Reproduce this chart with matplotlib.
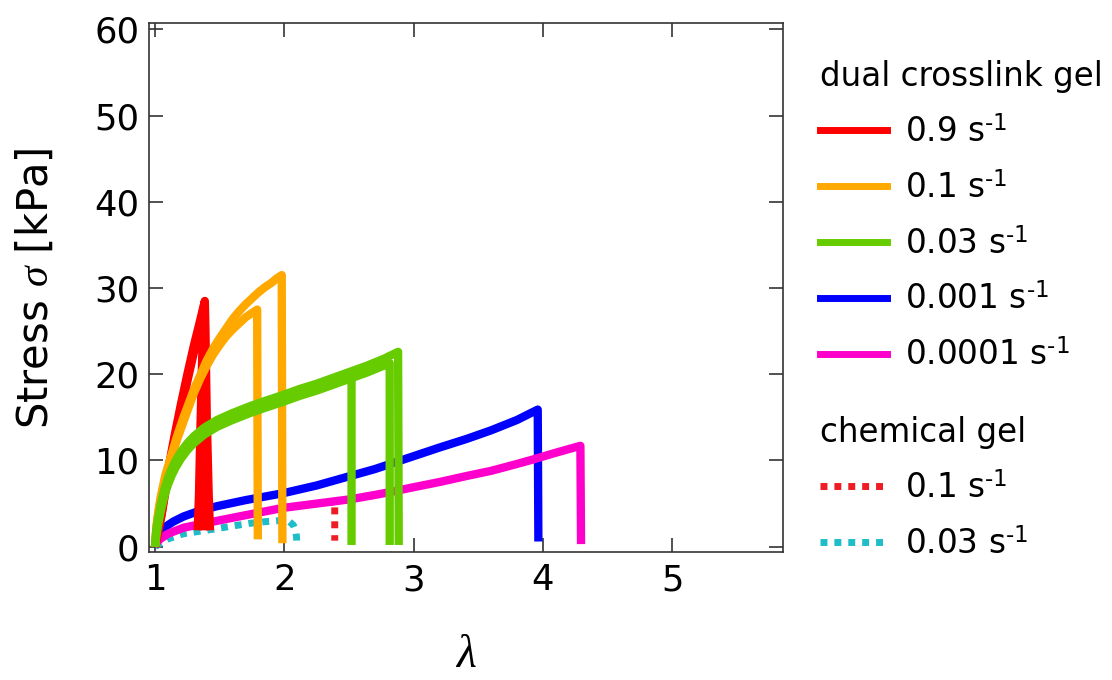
import matplotlib
matplotlib.use('Agg')
import matplotlib.pyplot as plt
from matplotlib.lines import Line2D

# ---------------- data ----------------
# dual crosslink gel, 0.9 s^-1 (three specimens)
red_lam_a = [1.00, 1.05, 1.10, 1.15, 1.20, 1.25, 1.30, 1.35, 1.385, 1.39, 1.40, 1.415, 1.425]
red_sig_a = [0.0, 4.0, 8.8, 12.8, 16.5, 20.0, 23.3, 26.3, 28.5, 25.0, 15.0, 6.0, 1.9]
red_lam_b = [1.00, 1.05, 1.10, 1.15, 1.20, 1.25, 1.30, 1.35, 1.375, 1.365, 1.35, 1.34, 1.33]
red_sig_b = [0.0, 3.6, 8.2, 12.0, 15.6, 19.2, 22.5, 25.6, 27.5, 22.0, 13.0, 6.0, 1.9]
red_lam_c = [1.00, 1.05, 1.10, 1.15, 1.20, 1.25, 1.30, 1.35, 1.38, 1.382, 1.38, 1.378]
red_sig_c = [0.0, 3.8, 8.5, 12.4, 16.0, 19.6, 22.9, 26.0, 28.0, 18.0, 8.0, 1.9]

# dual crosslink gel, 0.1 s^-1 (two specimens)
org_lam_a = [1.00, 1.01, 1.02, 1.035, 1.05, 1.08, 1.12, 1.17, 1.22, 1.30, 1.35, 1.40, 1.45, 1.50,
             1.55, 1.60, 1.65, 1.70, 1.75, 1.80, 1.85, 1.90, 1.94, 1.98, 1.985]
org_sig_a = [0.0, 2.2, 3.5, 5.0, 6.2, 8.3, 10.3, 12.8, 15.0, 18.2, 19.9, 21.6, 23.0, 24.2,
             25.3, 26.4, 27.3, 28.1, 28.8, 29.5, 30.1, 30.6, 31.1, 31.5, 0.4]
org_lam_b = [1.00, 1.01, 1.02, 1.035, 1.05, 1.08, 1.12, 1.17, 1.22, 1.30, 1.35, 1.40, 1.45, 1.50,
             1.55, 1.60, 1.65, 1.70, 1.75, 1.79, 1.795]
org_sig_b = [0.0, 2.1, 3.3, 4.8, 6.0, 8.0, 10.0, 12.4, 14.5, 17.8, 19.5, 21.0, 22.3, 23.4,
             24.4, 25.2, 25.9, 26.6, 27.1, 27.5, 0.85]

# dual crosslink gel, 0.03 s^-1 (three specimens)
grn_lam_a = [1.00, 1.01, 1.02, 1.035, 1.05, 1.075, 1.10, 1.13, 1.16, 1.20, 1.25, 1.30, 1.38, 1.48,
             1.60, 1.735, 1.85, 1.99, 2.12, 2.25, 2.38, 2.51, 2.64, 2.77, 2.88, 2.885]
grn_sig_a = [0.0, 2.0, 3.0, 4.2, 5.3, 6.8, 8.0, 9.1, 10.0, 11.0, 12.0, 12.8, 13.8, 14.7,
             15.5, 16.3, 16.9, 17.6, 18.3, 18.9, 19.6, 20.3, 21.0, 21.8, 22.6, 0.2]
grn_lam_b = [1.00, 1.01, 1.02, 1.035, 1.05, 1.075, 1.10, 1.13, 1.16, 1.20, 1.25, 1.30, 1.38, 1.48,
             1.60, 1.735, 1.85, 1.99, 2.12, 2.25, 2.38, 2.51, 2.64, 2.77, 2.815, 2.815]
grn_sig_b = [0.0, 1.2, 2.2, 3.4, 4.5, 6.0, 7.2, 8.3, 9.2, 10.2, 11.2, 12.0, 13.0, 13.9,
             14.7, 15.5, 16.1, 16.8, 17.5, 18.1, 18.8, 19.5, 20.2, 21.0, 21.3, 0.2]
grn_lam_c = [1.00, 1.01, 1.02, 1.035, 1.05, 1.075, 1.10, 1.13, 1.16, 1.20, 1.25, 1.30, 1.38, 1.48,
             1.60, 1.735, 1.85, 1.99, 2.12, 2.25, 2.38, 2.52, 2.52]
grn_sig_c = [0.0, 1.6, 2.6, 3.8, 4.9, 6.4, 7.6, 8.7, 9.6, 10.6, 11.6, 12.4, 13.4, 14.3,
             15.1, 15.9, 16.5, 17.2, 17.9, 18.5, 19.2, 19.8, 0.2]

# dual crosslink gel, 0.001 s^-1
blu_lam = [1.00, 1.01, 1.02, 1.04, 1.08, 1.14, 1.22, 1.35, 1.48, 1.70, 1.99, 2.25, 2.51, 2.70,
           2.84, 3.00, 3.20, 3.41, 3.60, 3.80, 3.96, 3.965]
blu_sig = [0.0, 0.7, 1.1, 1.6, 2.3, 2.9, 3.5, 4.2, 4.7, 5.4, 6.2, 7.1, 8.2, 9.0,
           9.7, 10.5, 11.5, 12.5, 13.5, 14.7, 15.9, 0.6]

# dual crosslink gel, 0.0001 s^-1
mag_lam = [1.00, 1.01, 1.02, 1.04, 1.10, 1.22, 1.35, 1.48, 1.75, 1.99, 2.25, 2.51, 2.70, 2.84,
           3.00, 3.20, 3.41, 3.60, 3.80, 3.92, 4.10, 4.29, 4.295]
mag_sig = [0.0, 0.4, 0.6, 0.9, 1.5, 2.2, 2.6, 3.0, 3.8, 4.5, 5.0, 5.5, 6.0, 6.4,
           6.9, 7.5, 8.2, 8.8, 9.6, 10.1, 10.9, 11.7, 0.3]

# chemical gel, 0.1 s^-1 (runs underneath the 0.0001 s^-1 curve until it breaks)
chr_lam = [1.00, 1.04, 1.10, 1.22, 1.35, 1.48, 1.75, 1.99, 2.25, 2.39, 2.39]
chr_sig = [0.0, 0.9, 1.5, 2.2, 2.6, 3.0, 3.8, 4.5, 5.0, 5.2, 0.7]

# chemical gel, 0.03 s^-1
chc_lam = [1.00, 1.05, 1.10, 1.22, 1.35, 1.48, 1.60, 1.73, 1.85, 1.94, 2.00, 2.04, 2.07, 2.09, 2.095, 2.096]
chc_sig = [0.0, 0.5, 0.9, 1.5, 1.8, 2.1, 2.4, 2.7, 2.9, 3.0, 3.05, 2.9, 2.5, 1.7, 1.0, 0.4]

dual_labels = ['0.9 s$^{\\text{-1}}$', '0.1 s$^{\\text{-1}}$', '0.03 s$^{\\text{-1}}$',
               '0.001 s$^{\\text{-1}}$', '0.0001 s$^{\\text{-1}}$']
chem_labels = ['0.1 s$^{\\text{-1}}$', '0.03 s$^{\\text{-1}}$']
x_ticks = [1, 2, 3, 4, 5]
y_ticks = [0, 10, 20, 30, 40, 50, 60]

# ---------------- style ----------------
plt.rcParams['font.family'] = ['DejaVu Sans']
plt.rcParams['mathtext.fontset'] = 'custom'
plt.rcParams['mathtext.rm'] = 'DejaVu Sans'
plt.rcParams['mathtext.it'] = 'Liberation Serif:italic'

C_RED = '#FF0000'
C_ORG = '#FFA800'
C_GRN = '#66CC00'
C_BLU = '#0000FF'
C_MAG = '#FF00CC'
C_CHR = '#EE1C24'
C_CHC = '#1FBDC8'
LW = 6.0
DOT = (0, (1, 1))

fig = plt.figure(figsize=(11.12, 6.8), dpi=100)
ax = fig.add_axes([0.1343, 0.1878, 0.5696, 0.7779])

kw = dict(lw=LW, solid_joinstyle='round', solid_capstyle='butt')
ax.plot(chr_lam, chr_sig, color=C_CHR, ls=DOT, lw=5, dash_capstyle='butt')
ax.plot(chc_lam, chc_sig, color=C_CHC, ls=DOT, lw=5, dash_capstyle='butt')
ax.plot(blu_lam, blu_sig, color=C_BLU, **kw)
ax.plot(mag_lam, mag_sig, color=C_MAG, **kw)
ax.plot(red_lam_a, red_sig_a, color=C_RED, **kw)
ax.plot(red_lam_b, red_sig_b, color=C_RED, **kw)
ax.plot(red_lam_c, red_sig_c, color=C_RED, **kw)
ax.plot(org_lam_a, org_sig_a, color=C_ORG, **kw)
ax.plot(org_lam_b, org_sig_b, color=C_ORG, **kw)
ax.plot(grn_lam_a, grn_sig_a, color=C_GRN, **kw)
ax.plot(grn_lam_b, grn_sig_b, color=C_GRN, **kw)
ax.plot(grn_lam_c, grn_sig_c, color=C_GRN, **kw)

ax.set_xlim(0.956, 5.855)
ax.set_ylim(-0.65, 60.7)
ax.set_xticks(x_ticks)
ax.set_yticks(y_ticks)

SPC = '#333333'
for s in ax.spines.values():
    s.set_color(SPC)
    s.set_linewidth(1.2)
ax.tick_params(direction='in', length=10, width=1.2, color=SPC,
               top=True, right=True, labelsize=25.5)
ax.tick_params(axis='x', pad=8)
ax.tick_params(axis='y', pad=7)

ax.set_ylabel('Stress $\\sigma$ [kPa]', fontsize=30)
ax.yaxis.label.set_va('center')
ax.yaxis.set_label_coords(-0.18, 0.5)
ax.set_xlabel('$\\lambda$', fontsize=33)
ax.xaxis.label.set_va('center')
ax.xaxis.set_label_coords(0.5, -0.194)

dual_handles = [Line2D([], [], color=c, lw=5) for c in (C_RED, C_ORG, C_GRN, C_BLU, C_MAG)]
chem_handles = [Line2D([], [], color=c, lw=5, ls=DOT, dash_capstyle='butt') for c in (C_CHR, C_CHC)]

leg_kw = dict(frameon=False, fontsize=23.5, title_fontsize=23.5, handlelength=2.05,
              handletextpad=0.55, labelspacing=0.7, borderpad=0, borderaxespad=0,
              alignment='left', loc='upper left')
leg1 = fig.legend(dual_handles, dual_labels, title='dual crosslink gel',
                  bbox_to_anchor=(820 / 1112, 1 - 60 / 680), **leg_kw)
leg2 = fig.legend(chem_handles, chem_labels, title='chemical gel',
                  bbox_to_anchor=(820 / 1112, 1 - 416 / 680), **leg_kw)

fig.savefig('out.png', dpi=100, facecolor='white')
